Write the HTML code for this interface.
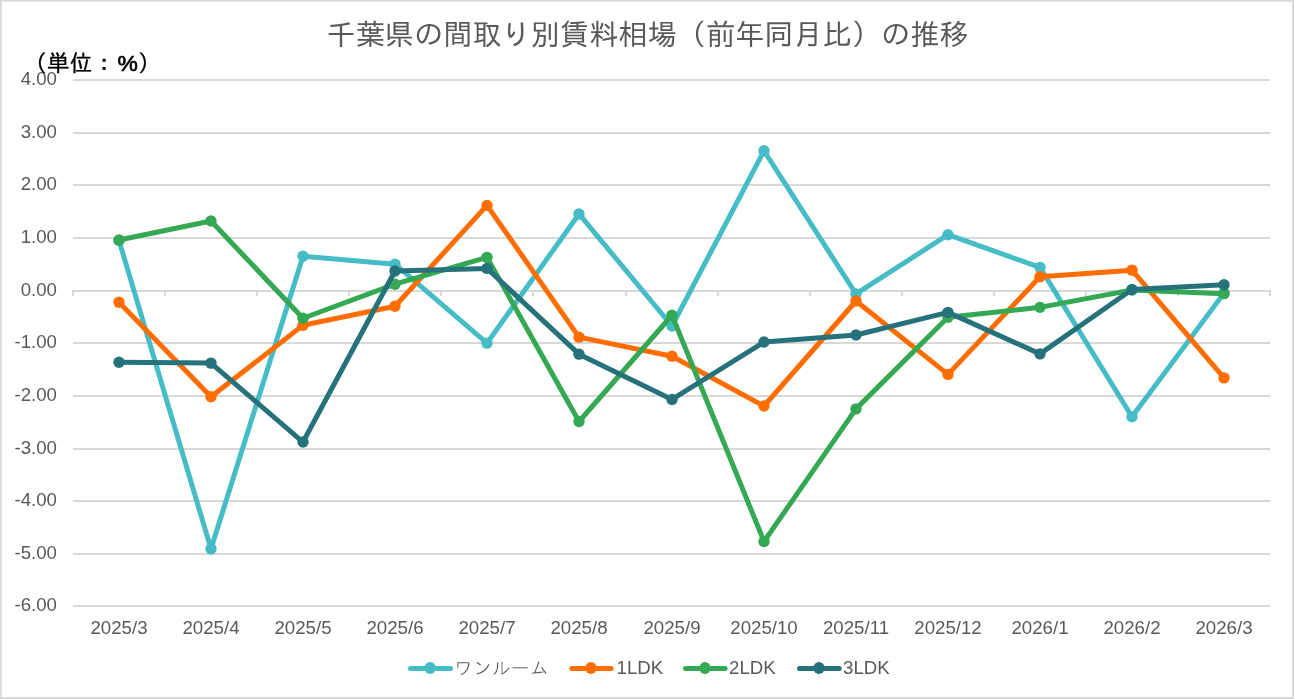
<!DOCTYPE html>
<html lang="ja"><head><meta charset="utf-8"><title>千葉県の間取り別賃料相場（前年同月比）の推移</title>
<style>
html,body{margin:0;padding:0;background:#fff;}
body{width:1294px;height:699px;overflow:hidden;position:relative;}
svg{position:absolute;left:0;top:0;display:block;}
.ax{font-family:"Liberation Sans","Noto Sans CJK JP",sans-serif;font-size:18.67px;fill:#595959;}
.ttl{font-family:"Liberation Sans","IPAGothic","Noto Sans CJK JP",sans-serif;font-size:29.2px;fill:#595959;}
.unit{font-family:"Liberation Sans","IPAGothic","Noto Sans CJK JP",sans-serif;font-size:22.85px;fill:#000;stroke:#000;stroke-width:0.3px;}
.pct{font-family:"Liberation Sans",sans-serif;font-weight:normal;stroke:#000;stroke-width:0.7px;}
.lgj{font-family:"Liberation Sans","IPAGothic","Noto Sans CJK JP",sans-serif;font-size:18.9px;fill:#4c4c4c;stroke:#fff;stroke-width:0.45px;}
</style></head><body>
<svg width="1294" height="699" viewBox="0 0 1294 699">
<rect x="0" y="0" width="1294" height="699" fill="#fff"/>
<rect x="0" y="0" width="1294" height="1.65" fill="#D9D9D9"/><rect x="0" y="0" width="1.7" height="699" fill="#D9D9D9"/><rect x="0" y="697" width="1294" height="2" fill="#D9D9D9"/><rect x="1292" y="0" width="2" height="699" fill="#D9D9D9"/>
<rect x="73" y="79" width="1197" height="2" fill="#D9D9D9"/>
<rect x="73" y="132" width="1197" height="2" fill="#D9D9D9"/>
<rect x="73" y="184" width="1197" height="2" fill="#D9D9D9"/>
<rect x="73" y="237" width="1197" height="2" fill="#D9D9D9"/>
<rect x="73" y="290" width="1197" height="2" fill="#D9D9D9"/>
<rect x="73" y="342" width="1197" height="2" fill="#D9D9D9"/>
<rect x="73" y="395" width="1197" height="2" fill="#D9D9D9"/>
<rect x="73" y="448" width="1197" height="2" fill="#D9D9D9"/>
<rect x="73" y="500" width="1197" height="2" fill="#D9D9D9"/>
<rect x="73" y="553" width="1197" height="2" fill="#D9D9D9"/>
<rect x="73" y="605" width="1197" height="2" fill="#D9D9D9"/>
<rect x="72" y="290" width="2" height="6" fill="#D9D9D9"/>
<rect x="164" y="290" width="2" height="6" fill="#D9D9D9"/>
<rect x="256" y="290" width="2" height="6" fill="#D9D9D9"/>
<rect x="348" y="290" width="2" height="6" fill="#D9D9D9"/>
<rect x="440" y="290" width="2" height="6" fill="#D9D9D9"/>
<rect x="532" y="290" width="2" height="6" fill="#D9D9D9"/>
<rect x="625" y="290" width="2" height="6" fill="#D9D9D9"/>
<rect x="717" y="290" width="2" height="6" fill="#D9D9D9"/>
<rect x="809" y="290" width="2" height="6" fill="#D9D9D9"/>
<rect x="901" y="290" width="2" height="6" fill="#D9D9D9"/>
<rect x="993" y="290" width="2" height="6" fill="#D9D9D9"/>
<rect x="1085" y="290" width="2" height="6" fill="#D9D9D9"/>
<rect x="1177" y="290" width="2" height="6" fill="#D9D9D9"/>
<rect x="1269" y="290" width="2" height="6" fill="#D9D9D9"/>
<text class="ax" x="57" y="85.10" text-anchor="end">4.00</text>
<text class="ax" x="57" y="138.10" text-anchor="end">3.00</text>
<text class="ax" x="57" y="190.10" text-anchor="end">2.00</text>
<text class="ax" x="57" y="243.10" text-anchor="end">1.00</text>
<text class="ax" x="57" y="296.10" text-anchor="end">0.00</text>
<text class="ax" x="57" y="348.10" text-anchor="end">-1.00</text>
<text class="ax" x="57" y="401.10" text-anchor="end">-2.00</text>
<text class="ax" x="57" y="454.10" text-anchor="end">-3.00</text>
<text class="ax" x="57" y="506.10" text-anchor="end">-4.00</text>
<text class="ax" x="57" y="559.10" text-anchor="end">-5.00</text>
<text class="ax" x="57" y="611.10" text-anchor="end">-6.00</text>
<text class="ax" x="119.00" y="634.1" text-anchor="middle">2025/3</text>
<text class="ax" x="211.00" y="634.1" text-anchor="middle">2025/4</text>
<text class="ax" x="303.00" y="634.1" text-anchor="middle">2025/5</text>
<text class="ax" x="395.00" y="634.1" text-anchor="middle">2025/6</text>
<text class="ax" x="487.00" y="634.1" text-anchor="middle">2025/7</text>
<text class="ax" x="579.00" y="634.1" text-anchor="middle">2025/8</text>
<text class="ax" x="672.00" y="634.1" text-anchor="middle">2025/9</text>
<text class="ax" x="764.00" y="634.1" text-anchor="middle">2025/10</text>
<text class="ax" x="856.00" y="634.1" text-anchor="middle">2025/11</text>
<text class="ax" x="948.00" y="634.1" text-anchor="middle">2025/12</text>
<text class="ax" x="1040.00" y="634.1" text-anchor="middle">2026/1</text>
<text class="ax" x="1132.00" y="634.1" text-anchor="middle">2026/2</text>
<text class="ax" x="1224.00" y="634.1" text-anchor="middle">2026/3</text>
<text class="ttl" x="647.5" y="45" text-anchor="middle">千葉県の間取り別賃料相場（前年同月比）の推移</text>
<text class="unit" x="24.1" y="71">（単位：<tspan class="pct" x="117.6">%</tspan><tspan x="138">）</tspan></text>
<polyline points="119.00,240.51 211.00,548.86 303.00,256.19 395.00,264.19 487.00,343.12 579.00,213.94 672.00,326.02 764.00,150.79 856.00,293.92 948.00,234.72 1040.00,267.35 1132.00,416.79 1224.00,293.13" fill="none" stroke="#46BDC6" stroke-width="5.00" stroke-linejoin="round" stroke-linecap="round"/>
<circle cx="119.00" cy="240.51" r="5.70" fill="#46BDC6"/>
<circle cx="211.00" cy="548.86" r="5.70" fill="#46BDC6"/>
<circle cx="303.00" cy="256.19" r="5.70" fill="#46BDC6"/>
<circle cx="395.00" cy="264.19" r="5.70" fill="#46BDC6"/>
<circle cx="487.00" cy="343.12" r="5.70" fill="#46BDC6"/>
<circle cx="579.00" cy="213.94" r="5.70" fill="#46BDC6"/>
<circle cx="672.00" cy="326.02" r="5.70" fill="#46BDC6"/>
<circle cx="764.00" cy="150.79" r="5.70" fill="#46BDC6"/>
<circle cx="856.00" cy="293.92" r="5.70" fill="#46BDC6"/>
<circle cx="948.00" cy="234.72" r="5.70" fill="#46BDC6"/>
<circle cx="1040.00" cy="267.35" r="5.70" fill="#46BDC6"/>
<circle cx="1132.00" cy="416.79" r="5.70" fill="#46BDC6"/>
<circle cx="1224.00" cy="293.13" r="5.70" fill="#46BDC6"/>
<polyline points="119.00,302.18 211.00,396.79 303.00,325.23 395.00,306.29 487.00,205.41 579.00,337.17 672.00,356.27 764.00,406.00 856.00,301.02 948.00,374.38 1040.00,276.82 1132.00,270.14 1224.00,377.85" fill="none" stroke="#FF6D01" stroke-width="5.00" stroke-linejoin="round" stroke-linecap="round"/>
<circle cx="119.00" cy="302.18" r="5.70" fill="#FF6D01"/>
<circle cx="211.00" cy="396.79" r="5.70" fill="#FF6D01"/>
<circle cx="303.00" cy="325.23" r="5.70" fill="#FF6D01"/>
<circle cx="395.00" cy="306.29" r="5.70" fill="#FF6D01"/>
<circle cx="487.00" cy="205.41" r="5.70" fill="#FF6D01"/>
<circle cx="579.00" cy="337.17" r="5.70" fill="#FF6D01"/>
<circle cx="672.00" cy="356.27" r="5.70" fill="#FF6D01"/>
<circle cx="764.00" cy="406.00" r="5.70" fill="#FF6D01"/>
<circle cx="856.00" cy="301.02" r="5.70" fill="#FF6D01"/>
<circle cx="948.00" cy="374.38" r="5.70" fill="#FF6D01"/>
<circle cx="1040.00" cy="276.82" r="5.70" fill="#FF6D01"/>
<circle cx="1132.00" cy="270.14" r="5.70" fill="#FF6D01"/>
<circle cx="1224.00" cy="377.85" r="5.70" fill="#FF6D01"/>
<polyline points="119.00,239.98 211.00,221.04 303.00,318.28 395.00,284.19 487.00,257.35 579.00,421.52 672.00,315.23 764.00,541.50 856.00,408.89 948.00,317.34 1040.00,307.34 1132.00,289.97 1224.00,293.66" fill="none" stroke="#34A853" stroke-width="5.00" stroke-linejoin="round" stroke-linecap="round"/>
<circle cx="119.00" cy="239.98" r="5.70" fill="#34A853"/>
<circle cx="211.00" cy="221.04" r="5.70" fill="#34A853"/>
<circle cx="303.00" cy="318.28" r="5.70" fill="#34A853"/>
<circle cx="395.00" cy="284.19" r="5.70" fill="#34A853"/>
<circle cx="487.00" cy="257.35" r="5.70" fill="#34A853"/>
<circle cx="579.00" cy="421.52" r="5.70" fill="#34A853"/>
<circle cx="672.00" cy="315.23" r="5.70" fill="#34A853"/>
<circle cx="764.00" cy="541.50" r="5.70" fill="#34A853"/>
<circle cx="856.00" cy="408.89" r="5.70" fill="#34A853"/>
<circle cx="948.00" cy="317.34" r="5.70" fill="#34A853"/>
<circle cx="1040.00" cy="307.34" r="5.70" fill="#34A853"/>
<circle cx="1132.00" cy="289.97" r="5.70" fill="#34A853"/>
<circle cx="1224.00" cy="293.66" r="5.70" fill="#34A853"/>
<polyline points="119.00,362.22 211.00,363.12 303.00,442.05 395.00,271.03 487.00,268.40 579.00,354.17 672.00,399.42 764.00,342.07 856.00,335.02 948.00,312.39 1040.00,353.85 1132.00,289.45 1224.00,284.71" fill="none" stroke="#26727B" stroke-width="5.00" stroke-linejoin="round" stroke-linecap="round"/>
<circle cx="119.00" cy="362.22" r="5.70" fill="#26727B"/>
<circle cx="211.00" cy="363.12" r="5.70" fill="#26727B"/>
<circle cx="303.00" cy="442.05" r="5.70" fill="#26727B"/>
<circle cx="395.00" cy="271.03" r="5.70" fill="#26727B"/>
<circle cx="487.00" cy="268.40" r="5.70" fill="#26727B"/>
<circle cx="579.00" cy="354.17" r="5.70" fill="#26727B"/>
<circle cx="672.00" cy="399.42" r="5.70" fill="#26727B"/>
<circle cx="764.00" cy="342.07" r="5.70" fill="#26727B"/>
<circle cx="856.00" cy="335.02" r="5.70" fill="#26727B"/>
<circle cx="948.00" cy="312.39" r="5.70" fill="#26727B"/>
<circle cx="1040.00" cy="353.85" r="5.70" fill="#26727B"/>
<circle cx="1132.00" cy="289.45" r="5.70" fill="#26727B"/>
<circle cx="1224.00" cy="284.71" r="5.70" fill="#26727B"/>
<line x1="410.50" y1="668.5" x2="450.50" y2="668.5" stroke="#46BDC6" stroke-width="5.00" stroke-linecap="round"/>
<ellipse cx="430.10" cy="668.0" rx="5.70" ry="6.1" fill="#46BDC6"/>
<text class="lgj" x="454.10" y="674.9">ワンルーム</text>
<line x1="571.90" y1="668.5" x2="611.10" y2="668.5" stroke="#FF6D01" stroke-width="5.00" stroke-linecap="round"/>
<ellipse cx="591.00" cy="668.0" rx="5.70" ry="6.1" fill="#FF6D01"/>
<text class="ax" x="616.60" y="674.2">1LDK</text>
<line x1="685.50" y1="668.5" x2="725.10" y2="668.5" stroke="#34A853" stroke-width="5.00" stroke-linecap="round"/>
<ellipse cx="705.00" cy="668.0" rx="5.70" ry="6.1" fill="#34A853"/>
<text class="ax" x="729.10" y="674.2">2LDK</text>
<line x1="799.50" y1="668.5" x2="839.20" y2="668.5" stroke="#26727B" stroke-width="5.00" stroke-linecap="round"/>
<ellipse cx="819.00" cy="668.0" rx="5.70" ry="6.1" fill="#26727B"/>
<text class="ax" x="843.10" y="674.2">3LDK</text>
</svg>
</body></html>
